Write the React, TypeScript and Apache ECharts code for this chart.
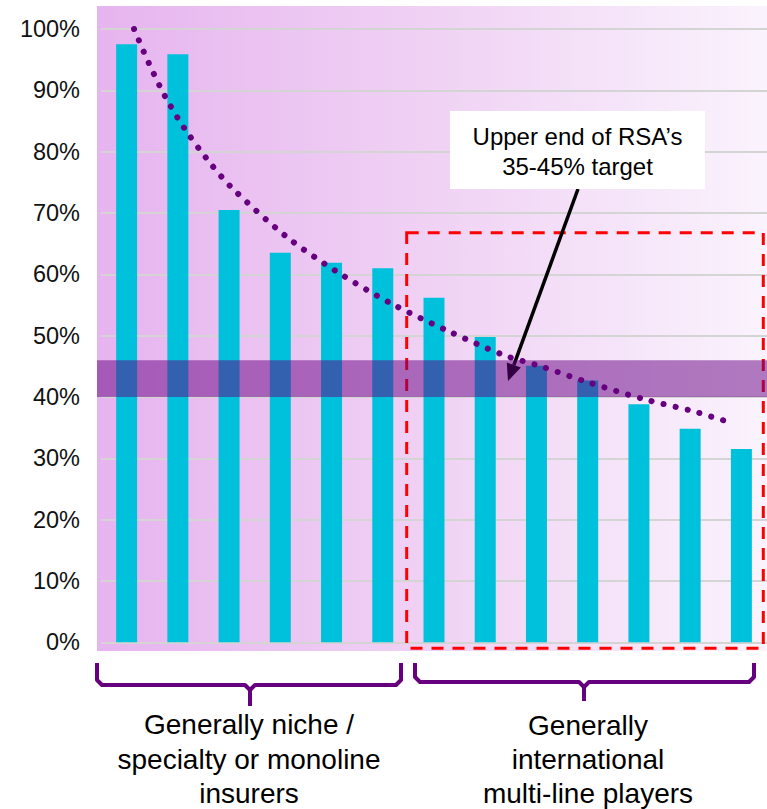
import React, { useEffect, useRef } from "react";
import * as echarts from "echarts";

const categories = [
  "Insurer 1", "Insurer 2", "Insurer 3", "Insurer 4", "Insurer 5", "Insurer 6", "Insurer 7",
  "Insurer 8", "Insurer 9", "Insurer 10", "Insurer 11", "Insurer 12", "Insurer 13",
];
const ratioValues = [97.5, 95.9, 70.5, 63.5, 61.9, 61.0, 56.2, 49.8, 45.1, 42.7, 38.8, 34.8, 31.5];

// dotted trend line, x in category-band units (0 = left edge of first band)
const trendX = [0.645, 0.93, 1.245, 1.62, 2.05, 2.53, 3.61, 4.59, 5.65, 6.74, 7.87, 8.55, 9.47, 10.62, 11.55, 12.26];
const trendY = [100, 94.5, 89.1, 83.9, 79.0, 74.3, 66.2, 60.5, 55.3, 50.9, 46.8, 45.1, 42.5, 39.6, 37.7, 35.9];

const yMin = 0;
const yMax = 100;
const yStep = 10;
const targetBand = [40, 46];

const annotationText = "Upper end of RSA\u2019s\n35-45% target";
const leftGroupLines = ["Generally niche /", "specialty or monoline", "insurers"];
const rightGroupLines = ["Generally", "international", "multi-line players"];

const FONT = '"Liberation Sans", Arial, Helvetica, sans-serif';

export default function App() {
  const ref = useRef<HTMLDivElement>(null);

  useEffect(() => {
    const el = ref.current;
    if (!el) return;
    const chart = echarts.init(el, null, { renderer: "svg" });

    chart.setOption({
      animation: false,
      grid: { left: 101, right: 0, top: 29, bottom: 809 - 642.3 },
      xAxis: [
        { type: "category", data: categories, show: false, boundaryGap: true },
        { type: "value", min: 0, max: categories.length, show: false },
      ],
      yAxis: {
        type: "value",
        min: yMin,
        max: yMax,
        interval: yStep,
        axisLine: { show: false },
        axisTick: { show: false },
        axisLabel: {
          formatter: (v: number) => `${v}%`,
          fontSize: 23.5,
          color: "#111",
          fontFamily: FONT,
          margin: 21,
        },
        splitLine: { lineStyle: { color: "#d4d4d4", width: 2 } },
      },
      series: [
        {
          type: "bar",
          data: ratioValues,
          barWidth: 21,
          itemStyle: { color: "#00c1dc" },
          z: 2,
        },
        {
          type: "line",
          xAxisIndex: 1,
          yAxisIndex: 0,
          data: trendX.map((x, i) => [x, trendY[i]]),
          smooth: 0.3,
          symbol: "none",
          lineStyle: { color: "#66007f", width: 6, type: [0.1, 12.2], cap: "round" },
          z: 5,
        },
      ],
    });

    const yTop = chart.convertToPixel({ yAxisIndex: 0 }, targetBand[1]) as number;
    const yBot = chart.convertToPixel({ yAxisIndex: 0 }, targetBand[0]) as number;

    // arrow geometry
    const ax0 = 578, ay0 = 189, ax1 = 508, ay1 = 381;
    const dx = ax1 - ax0, dy = ay1 - ay0;
    const len = Math.sqrt(dx * dx + dy * dy);
    const ux = dx / len, uy = dy / len;
    const px = -uy, py = ux;
    const headL = 17, headW = 7.5;
    const bx = ax1 - ux * headL, by = ay1 - uy * headL;

    const purple = "#66007f";

    const lineTexts = (lines: string[], cx: number, ys: number[]) =>
      lines.map((t, i) => ({
        type: "text",
        z: 7,
        x: cx,
        y: ys[i],
        style: {
          text: t,
          fill: "#000",
          fontSize: 28,
          fontFamily: FONT,
          align: "center",
          verticalAlign: "middle",
        },
      }));

    chart.setOption({
      graphic: [
        {
          type: "rect",
          z: -1,
          shape: { x: 97, y: 6, width: 670, height: 645 },
          style: {
            fill: new echarts.graphic.LinearGradient(0, 0, 1, 0, [
              { offset: 0, color: "#e6b4ef" },
              { offset: 0.5, color: "#f0d2f4" },
              { offset: 1, color: "#faf3fd" },
            ]),
          },
        },
        {
          type: "rect",
          z: 3,
          shape: { x: 406.7, y: 232.7, width: 356.6, height: 415.6 },
          style: { fill: "none", stroke: "#ff0000", lineWidth: 3, lineDash: [12, 9] },
        },
        {
          type: "line",
          z: 3,
          shape: { x1: ax0, y1: ay0, x2: bx, y2: by },
          style: { stroke: "#000", lineWidth: 3.5 },
        },
        {
          type: "polygon",
          z: 3,
          shape: {
            points: [
              [ax1, ay1],
              [bx + px * headW, by + py * headW],
              [bx - px * headW, by - py * headW],
            ],
          },
          style: { fill: "#000" },
        },
        {
          type: "rect",
          z: 4,
          shape: { x: 97, y: yTop, width: 670, height: yBot - yTop },
          style: { fill: "rgba(102,0,130,0.5)" },
        },
        {
          type: "rect",
          z: 6,
          shape: { x: 450, y: 111, width: 255, height: 78 },
          style: { fill: "#ffffff" },
        },
        {
          type: "text",
          z: 7,
          x: 577.5,
          y: 151,
          style: {
            text: annotationText,
            fill: "#000",
            fontSize: 24,
            fontFamily: FONT,
            align: "center",
            verticalAlign: "middle",
            lineHeight: 30,
          },
        },
        // left bracket
        {
          type: "polyline",
          z: 3,
          shape: {
            points: [[97, 663], [97, 680], [102, 685], [245, 685], [250, 690], [250, 706]],
          },
          style: { stroke: purple, lineWidth: 4, fill: "none", lineJoin: "round" },
        },
        {
          type: "polyline",
          z: 3,
          shape: {
            points: [[250, 690], [255, 685], [396, 685], [401, 680], [401, 663]],
          },
          style: { stroke: purple, lineWidth: 4, fill: "none", lineJoin: "round" },
        },
        // right bracket
        {
          type: "polyline",
          z: 3,
          shape: {
            points: [[415, 663], [415, 677], [420, 682], [579, 682], [584, 687], [584, 701]],
          },
          style: { stroke: purple, lineWidth: 4, fill: "none", lineJoin: "round" },
        },
        {
          type: "polyline",
          z: 3,
          shape: {
            points: [[584, 687], [589, 682], [749, 682], [754, 677], [754, 663]],
          },
          style: { stroke: purple, lineWidth: 4, fill: "none", lineJoin: "round" },
        },
        ...lineTexts(leftGroupLines, 249, [724, 759, 793.5]),
        ...lineTexts(rightGroupLines, 588, [725, 759, 793.5]),
      ],
    });

    return () => {
      chart.dispose();
    };
  }, []);

  return (
    <div
      ref={ref}
      style={{ position: "fixed", left: 0, top: 0, width: 767, height: 809, background: "#fff" }}
    />
  );
}
